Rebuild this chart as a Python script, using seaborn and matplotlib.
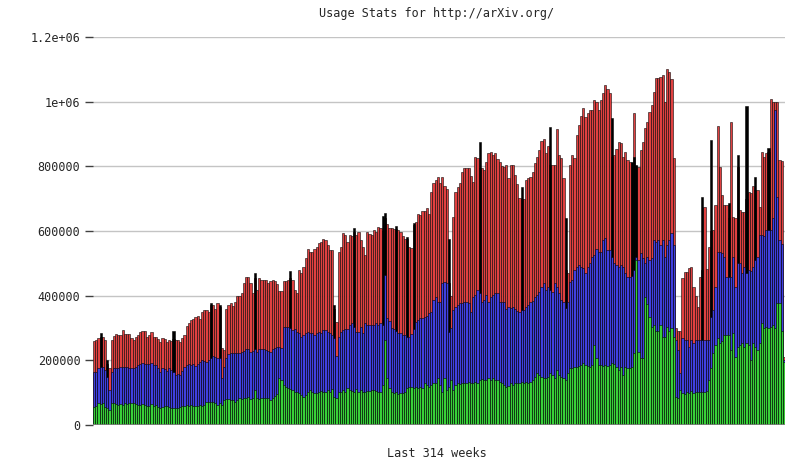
import matplotlib
matplotlib.use("Agg")
import matplotlib.pyplot as plt
import numpy as np
import pandas as pd
import seaborn as sns

# weekly values, in thousands (314 weeks)
red_k = [
    261, 263, 268, 272, 273, 263, 190, 175, 263, 276, 281, 279, 279, 294, 281, 281, 281, 268, 263, 273, 279, 289, 292, 291, 273,
    279, 289, 273, 273, 266, 258, 268, 266, 258, 263, 260, 266, 263, 263, 258, 268, 279, 307, 315, 325, 328, 334, 337, 327, 351, 356,
    356, 349, 370, 371, 360, 376, 365, 237, 232, 360, 371, 376, 368, 381, 398, 400, 407, 438, 459, 457, 438, 407, 455, 418, 454, 449, 449,
    449, 440, 444, 449, 444, 436, 413, 413, 444, 444, 447, 455, 449, 418, 407, 480, 469, 490, 516, 543, 536, 536, 543, 551, 562, 567,
    575, 572, 557, 542, 542, 360, 320, 536, 551, 593, 588, 567, 588, 583, 598, 588, 598, 572, 551, 526, 598, 590, 588, 603, 598, 611,
    608, 600, 640, 622, 610, 608, 605, 605, 602, 597, 584, 574, 575, 552, 546, 620, 629, 654, 649, 661, 663, 670, 654, 722, 749, 757,
    766, 747, 766, 740, 729, 440, 400, 644, 721, 737, 749, 782, 794, 794, 794, 770, 751, 829, 827, 794, 794, 790, 813, 842, 845, 835,
    842, 823, 813, 801, 798, 804, 763, 804, 803, 773, 745, 701, 700, 700, 758, 763, 767, 783, 809, 829, 850, 879, 885, 840, 863, 804, 804,
    804, 917, 834, 825, 763, 480, 469, 804, 834, 825, 897, 928, 956, 980, 952, 964, 974, 974, 1005, 1000, 974, 1005, 1026, 1052, 1040, 1026,
    830, 834, 853, 876, 873, 830, 845, 820, 814, 810, 964, 801, 798, 850, 876, 918, 937, 968, 990, 1030, 1072, 1072, 1077, 1083, 1000, 1100, 1092,
    1070, 825, 300, 290, 290, 454, 474, 474, 485, 488, 428, 400, 365, 459, 480, 674, 481, 551, 600, 603, 680, 925, 798, 711, 680, 680,
    640, 938, 644, 639, 798, 665, 660, 660, 700, 722, 717, 739, 727, 727, 675, 845, 830, 841, 845, 1007, 1000, 1000, 1000, 820, 815, 210,
]
blue_k = [
    165, 165, 175, 178, 180, 170, 150, 108, 165, 175, 176, 176, 178, 180, 180, 180, 176, 175, 176, 180, 186, 190, 192, 190, 190,
    190, 192, 185, 185, 175, 165, 175, 172, 168, 175, 170, 165, 155, 158, 155, 168, 180, 185, 190, 185, 188, 182, 190, 196, 201, 198,
    196, 200, 206, 212, 210, 206, 206, 144, 178, 206, 220, 224, 222, 224, 222, 224, 227, 230, 234, 234, 227, 230, 236, 227, 234, 236, 236,
    232, 230, 227, 234, 237, 242, 242, 237, 304, 304, 302, 300, 294, 296, 288, 283, 273, 278, 283, 288, 283, 283, 278, 283, 288, 283,
    294, 294, 288, 283, 278, 268, 212, 273, 288, 294, 296, 296, 309, 315, 304, 288, 288, 304, 283, 315, 309, 309, 309, 309, 315, 309,
    315, 310, 465, 330, 321, 300, 297, 291, 285, 285, 279, 279, 272, 272, 280, 297, 318, 325, 331, 331, 334, 337, 347, 350, 387, 395,
    381, 381, 438, 443, 438, 288, 300, 356, 366, 371, 378, 378, 381, 381, 376, 350, 396, 402, 418, 408, 381, 386, 402, 381, 396, 402,
    407, 407, 381, 381, 381, 358, 364, 361, 366, 358, 353, 350, 356, 356, 366, 371, 381, 384, 396, 402, 412, 428, 438, 418, 428, 418, 412,
    438, 428, 407, 387, 381, 361, 380, 443, 448, 479, 490, 495, 490, 485, 469, 490, 500, 521, 526, 545, 536, 536, 572, 577, 541, 541,
    521, 500, 495, 490, 495, 490, 469, 459, 459, 461, 480, 521, 510, 531, 515, 500, 521, 510, 515, 572, 567, 572, 557, 572, 521, 557, 572,
    593, 557, 263, 232, 160, 268, 263, 263, 242, 263, 253, 263, 263, 263, 263, 263, 263, 263, 334, 355, 428, 536, 536, 531, 521, 459,
    459, 459, 521, 428, 500, 500, 469, 490, 469, 480, 475, 490, 510, 521, 588, 588, 585, 603, 603, 603, 640, 974, 706, 572, 560, 200,
]
green_k = [
    57, 60, 67, 64, 67, 57, 52, 46, 67, 67, 64, 62, 64, 62, 67, 64, 67, 67, 69, 65, 63, 62, 64, 62, 60,
    60, 64, 60, 62, 57, 52, 57, 59, 60, 57, 52, 54, 54, 52, 57, 60, 60, 62, 60, 62, 60, 59, 60, 62, 60, 63,
    72, 72, 71, 72, 67, 62, 69, 62, 77, 79, 79, 77, 77, 72, 77, 82, 79, 85, 82, 88, 79, 82, 108, 82, 79, 82, 85,
    82, 85, 77, 85, 90, 95, 144, 140, 124, 118, 113, 110, 108, 103, 103, 100, 93, 88, 93, 103, 108, 103, 100, 98, 103, 105,
    103, 103, 108, 103, 110, 88, 82, 103, 103, 108, 103, 113, 108, 105, 103, 110, 103, 108, 103, 103, 105, 105, 108, 108, 105, 103,
    101, 124, 263, 144, 113, 103, 98, 103, 96, 98, 98, 103, 113, 119, 119, 113, 119, 113, 119, 113, 129, 124, 119, 124, 129, 131,
    144, 124, 103, 144, 108, 118, 140, 108, 124, 129, 127, 129, 131, 129, 134, 129, 129, 134, 131, 139, 142, 139, 139, 144, 139, 144,
    139, 139, 133, 129, 124, 118, 121, 129, 124, 129, 131, 129, 133, 129, 133, 131, 133, 139, 150, 160, 155, 150, 145, 145, 150, 160, 155,
    144, 170, 155, 150, 144, 139, 160, 175, 175, 180, 180, 182, 186, 191, 186, 182, 180, 186, 247, 206, 186, 186, 182, 186, 184, 186,
    191, 189, 180, 170, 180, 155, 180, 175, 175, 180, 222, 510, 227, 206, 206, 396, 375, 335, 304, 309, 291, 291, 309, 273, 273, 304, 290,
    299, 273, 87, 82, 108, 100, 95, 103, 100, 105, 100, 103, 103, 103, 103, 103, 105, 139, 175, 222, 247, 268, 253, 260, 278, 278,
    278, 232, 284, 211, 242, 247, 253, 242, 253, 247, 201, 253, 242, 232, 253, 314, 299, 304, 299, 304, 310, 300, 376, 376, 290, 196,
]
# weeks where the black series shows
black_idx = [3, 6, 36, 53, 57, 73, 89, 109, 118, 131, 132, 137, 142, 145, 161, 175, 194, 207, 214,
             235, 244, 245, 246, 276, 280, 288, 292, 296, 300, 306]
black_val_k = [286, 200, 290, 376, 372, 469, 475, 371, 608, 645, 657, 615, 581, 625, 575, 875, 737, 922, 640,
               948, 812, 830, 805, 705, 881, 686, 835, 988, 766, 856]

ytick_vals = [0, 200000, 400000, 600000, 800000, 1000000, 1200000]
ytick_labels = ["0", "200000", "400000", "600000", "800000", "1e+06", "1.2e+06"]

n = len(red_k)
black_k = np.zeros(n)
black_k[black_idx] = black_val_k

df = pd.DataFrame({
    "week": np.arange(n),
    "red": np.array(red_k) * 1000,
    "black": black_k * 1000,
    "blue": np.array(blue_k) * 1000,
    "green": np.array(green_k) * 1000,
})

sns.set_style("white")
plt.rcParams["font.family"] = ["DejaVu Sans Mono"]

fig = plt.figure(figsize=(7.88, 4.61), dpi=100)
ax = fig.add_axes([93 / 788, 1 - 425 / 461, 692 / 788, 388 / 461])

colors = {"red": "#e04040", "black": "#000000", "blue": "#4040e0", "green": "#38d038"}
for col in ["red", "black", "blue", "green"]:
    sns.barplot(data=df, x="week", y=col, color=colors[col], saturation=1, width=1.0,
                edgecolor="black", linewidth=0.38, native_scale=True, errorbar=None, ax=ax)

ax.set_xlim(-0.5, n - 0.5)
ax.set_ylim(0, 1200000)
ax.set_yticks(ytick_vals)
ax.set_yticklabels(ytick_labels)
ax.set_xticks([])
ax.set_xlabel("")
ax.set_ylabel("")
ax.yaxis.grid(True, color="#c4c4c4", linewidth=1)
ax.set_axisbelow(True)
for s in ax.spines.values():
    s.set_visible(False)
ax.axhline(0, color="#808080", linewidth=1.2)
ax.tick_params(axis="y", length=6, width=1, color="#404040", labelsize=8.5, pad=3, left=True)

fig.text(437 / 788, 1 - 13 / 461, "Usage Stats for http://arXiv.org/", ha="center", va="center", fontsize=8.5)
fig.text(437 / 788, 1 - 453 / 461, "Last 314 weeks", ha="center", va="center", fontsize=8.5)

fig.savefig("out.png", dpi=100)
